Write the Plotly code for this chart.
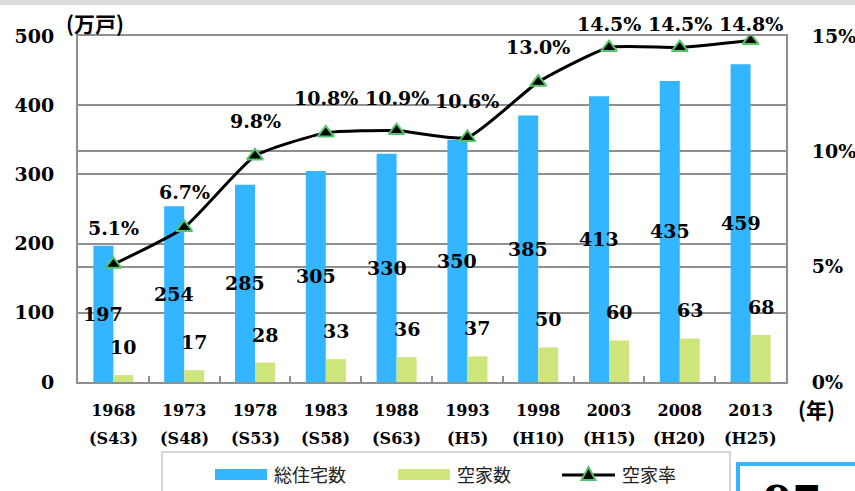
import plotly.graph_objects as go

years = ["1968", "1973", "1978", "1983", "1988", "1993", "1998", "2003", "2008", "2013"]
eras = ["(S43)", "(S48)", "(S53)", "(S58)", "(S63)", "(H5)", "(H10)", "(H15)", "(H20)", "(H25)"]
total_houses = [197, 254, 285, 305, 330, 350, 385, 413, 435, 459]
vacant_houses = [10, 17, 28, 33, 36, 37, 50, 60, 63, 68]
vacancy_rate = [5.1, 6.7, 9.8, 10.8, 10.9, 10.6, 13.0, 14.5, 14.5, 14.8]
rate_label_shift = [36, 35, 35, 35, 33, 36, 35, 24, 24, 17]

W, H = 855, 491
L, R, T, B = 78, 69, 36, 109
SERIF = "DejaVu Serif"
SANS = "Noto Sans CJK JP"
BLUE = "#33b5ff"
GREEN = "#cde57b"
GRID = "#8f8f8f"

xs = list(range(len(years)))
bounds = [i + 0.5 for i in xs[:-1]]

def px_x(px):
    return (px - L) / (W - L - R)

def px_y(py):
    return (H - B - py) / (H - T - B)

fig = go.Figure()
fig.add_trace(go.Bar(x=xs, y=total_houses, name="総住宅数", marker=dict(color=BLUE, line=dict(width=0)), showlegend=False))
fig.add_trace(go.Bar(x=xs, y=vacant_houses, name="空家数", marker=dict(color=GREEN, line=dict(width=0)), showlegend=False))
fig.add_trace(go.Scatter(x=xs, y=vacancy_rate, name="空家率", yaxis="y2", mode="lines+markers",
                         line=dict(color="black", width=3, shape="spline", smoothing=0.5),
                         marker=dict(symbol="triangle-up", size=14, color="black", line=dict(color="#52c46a", width=2)),
                         showlegend=False))

ann = []
lab_font = dict(family=SERIF, size=19, color="black")
C = dict(xanchor="center", yanchor="middle", showarrow=False)
for i in xs:
    ann.append(dict(x=i, y=total_houses[i] / 2, xref="x", yref="y", text=f"<b>{total_houses[i]}</b>",
                    xshift=-10, font=lab_font, **C))
    ann.append(dict(x=i, y=vacant_houses[i], xref="x", yref="y", text=f"<b>{vacant_houses[i]}</b>",
                    xshift=10, yshift=28, font=lab_font, **C))
    ann.append(dict(x=i, y=vacancy_rate[i], xref="x", yref="y2", text=f"<b>{vacancy_rate[i]:.1f}%</b>",
                    yshift=rate_label_shift[i], font=lab_font, **C))
    ann.append(dict(x=i, y=px_y(438), xref="x", yref="paper", text=f"<b>{eras[i]}</b>",
                    font=dict(family=SERIF, size=16, color="black"), **C))

ann.append(dict(x=px_x(816), y=px_y(409), xref="paper", yref="paper", text="<b>(年)</b>",
                font=dict(family=SANS, size=21, color="black"), **C))
ann.append(dict(x=px_x(95), y=px_y(23), xref="paper", yref="paper", text="<b>(万戸)</b>",
                font=dict(family=SANS, size=21, color="black"), **C))

tri_x, tri_y = 588.5, 474
tri_path = "M {} {} L {} {} L {} {} Z".format(
    px_x(tri_x - 7), px_y(tri_y + 6), px_x(tri_x + 7), px_y(tri_y + 6), px_x(tri_x), px_y(tri_y - 7))

shapes = [
    dict(type="rect", xref="paper", yref="paper", x0=px_x(0), x1=px_x(W), y0=px_y(0), y1=px_y(5),
         fillcolor="#dcdcdc", line=dict(width=0), layer="below"),
    dict(type="rect", xref="paper", yref="paper", x0=px_x(162), x1=px_x(730), y0=px_y(452), y1=px_y(520),
         fillcolor="white", line=dict(color="#c8c8c8", width=1.5)),
    dict(type="rect", xref="paper", yref="paper", x0=px_x(215), x1=px_x(267), y0=px_y(469), y1=px_y(480),
         fillcolor=BLUE, line=dict(width=0)),
    dict(type="rect", xref="paper", yref="paper", x0=px_x(398), x1=px_x(450), y0=px_y(469), y1=px_y(480),
         fillcolor=GREEN, line=dict(width=0)),
    dict(type="line", xref="paper", yref="paper", x0=px_x(562), x1=px_x(615), y0=px_y(475), y1=px_y(475),
         line=dict(color="black", width=3)),
    dict(type="path", xref="paper", yref="paper", path=tri_path, fillcolor="black",
         line=dict(color="#52c46a", width=2)),
    dict(type="rect", xref="paper", yref="paper", x0=px_x(738), x1=px_x(880), y0=px_y(464), y1=px_y(530),
         fillcolor="white", line=dict(color=BLUE, width=4)),
]
ann += [
    dict(x=px_x(272), y=px_y(474), xref="paper", yref="paper", xanchor="left", yanchor="middle", text="総住宅数",
         showarrow=False, font=dict(family=SANS, size=18, color="#222")),
    dict(x=px_x(455), y=px_y(474), xref="paper", yref="paper", xanchor="left", yanchor="middle", text="空家数",
         showarrow=False, font=dict(family=SANS, size=18, color="#222")),
    dict(x=px_x(620), y=px_y(474), xref="paper", yref="paper", xanchor="left", yanchor="middle", text="空家率",
         showarrow=False, font=dict(family=SANS, size=18, color="#222")),
    dict(x=px_x(792), y=px_y(475), xref="paper", yref="paper", xanchor="center", yanchor="top", text="<b>97</b>",
         showarrow=False, font=dict(family=SERIF, size=42, color="black")),
]

fig.update_layout(
    width=W, height=H,
    margin=dict(l=L, r=R, t=T, b=B, autoexpand=False),
    paper_bgcolor="white", plot_bgcolor="white",
    barmode="group", bargap=0.435, bargroupgap=0,
    xaxis=dict(range=[-0.5, len(xs) - 0.5], showline=True, linecolor=GRID, linewidth=2, mirror=True,
               ticks="", tickvals=xs, ticktext=[f"<b>{y}</b>" for y in years],
               minor=dict(tickvals=bounds, ticks="inside", ticklen=6, tickcolor=GRID, tickwidth=1.5, showgrid=False),
               tickfont=dict(family=SERIF, size=16, color="black"), ticklabelstandoff=13,
               showgrid=False, zeroline=False, automargin=False),
    yaxis=dict(range=[0, 500], showline=True, linecolor=GRID, linewidth=2,
               showgrid=True, gridcolor=GRID, gridwidth=1.5, zeroline=False, automargin=False,
               tickfont=dict(family=SERIF, size=19, color="black"), ticklabelstandoff=18,
               tickvals=[0, 100, 200, 300, 400, 500],
               ticktext=["<b>0</b>", "<b>100</b>", "<b>200</b>", "<b>300</b>", "<b>400</b>", "<b>500</b>"]),
    yaxis2=dict(range=[0, 15], overlaying="y", side="right", showline=True, linecolor=GRID, linewidth=2,
                showgrid=True, gridcolor=GRID, gridwidth=1.5, zeroline=False, automargin=False,
                tickfont=dict(family=SERIF, size=19, color="black"), ticklabelstandoff=20,
                tickvals=[0, 5, 10, 15], ticktext=["<b>0%</b>", "<b>5%</b>", "<b>10%</b>", "<b>15%</b>"]),
    annotations=ann, shapes=shapes, showlegend=False,
)

fig.write_html("out.html", config={"displayModeBar": False},
               post_script="document.body.style.margin='0px';document.body.style.overflow='hidden';")
